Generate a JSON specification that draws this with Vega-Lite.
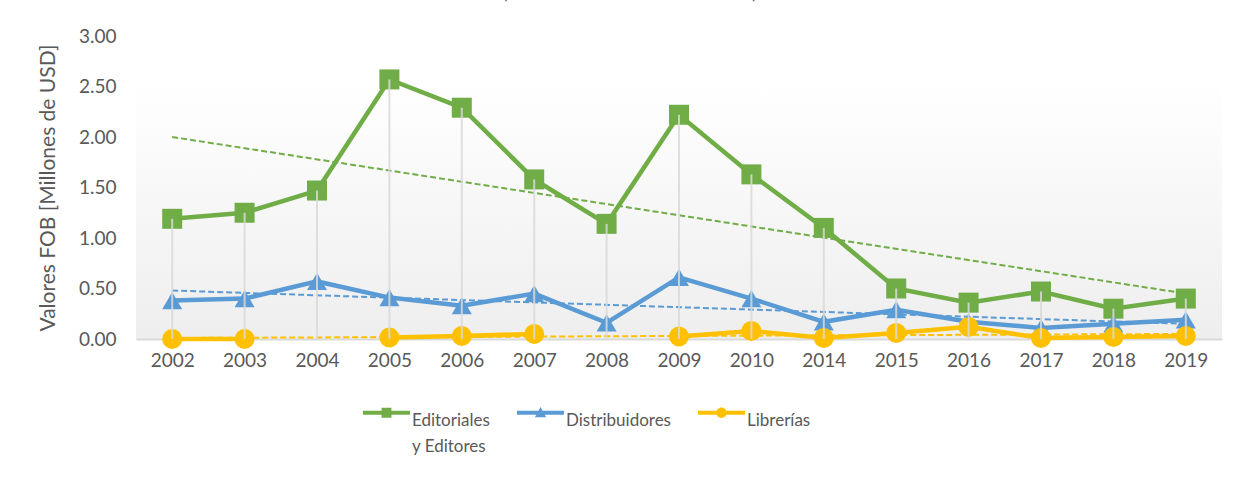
{
  "$schema": "https://vega.github.io/schema/vega-lite/v6.json",
  "width": 1086,
  "height": 303,
  "autosize": {"type": "none"},
  "padding": {"left": 136, "top": 36, "right": 27, "bottom": 138},
  "background": "white",
  "title": {
    "text": "(Valores FOB en Millones de USD)",
    "anchor": "middle",
    "frame": "bounds",
    "fontSize": 17,
    "font": "Lato",
    "fontWeight": "normal",
    "color": "#595959",
    "offset": 24
  },
  "datasets": {
    "series": [
      {"year": "2002", "series": "Editoriales y Editores", "value": 1.19},
      {"year": "2003", "series": "Editoriales y Editores", "value": 1.25},
      {"year": "2004", "series": "Editoriales y Editores", "value": 1.47},
      {"year": "2005", "series": "Editoriales y Editores", "value": 2.57},
      {"year": "2006", "series": "Editoriales y Editores", "value": 2.29},
      {"year": "2007", "series": "Editoriales y Editores", "value": 1.58},
      {"year": "2008", "series": "Editoriales y Editores", "value": 1.14},
      {"year": "2009", "series": "Editoriales y Editores", "value": 2.22},
      {"year": "2010", "series": "Editoriales y Editores", "value": 1.63},
      {"year": "2014", "series": "Editoriales y Editores", "value": 1.10},
      {"year": "2015", "series": "Editoriales y Editores", "value": 0.50},
      {"year": "2016", "series": "Editoriales y Editores", "value": 0.36},
      {"year": "2017", "series": "Editoriales y Editores", "value": 0.47},
      {"year": "2018", "series": "Editoriales y Editores", "value": 0.30},
      {"year": "2019", "series": "Editoriales y Editores", "value": 0.40},
      {"year": "2002", "series": "Distribuidores", "value": 0.38},
      {"year": "2003", "series": "Distribuidores", "value": 0.40},
      {"year": "2004", "series": "Distribuidores", "value": 0.57},
      {"year": "2005", "series": "Distribuidores", "value": 0.41},
      {"year": "2006", "series": "Distribuidores", "value": 0.33},
      {"year": "2007", "series": "Distribuidores", "value": 0.45},
      {"year": "2008", "series": "Distribuidores", "value": 0.16},
      {"year": "2009", "series": "Distribuidores", "value": 0.61},
      {"year": "2010", "series": "Distribuidores", "value": 0.40},
      {"year": "2014", "series": "Distribuidores", "value": 0.17},
      {"year": "2015", "series": "Distribuidores", "value": 0.29},
      {"year": "2016", "series": "Distribuidores", "value": 0.17},
      {"year": "2017", "series": "Distribuidores", "value": 0.11},
      {"year": "2018", "series": "Distribuidores", "value": 0.15},
      {"year": "2019", "series": "Distribuidores", "value": 0.19},
      {"year": "2002", "series": "Librerías", "value": 0.0},
      {"year": "2003", "series": "Librerías", "value": 0.0},
      {"year": "2004", "series": "Librerías", "value": null},
      {"year": "2005", "series": "Librerías", "value": 0.015},
      {"year": "2006", "series": "Librerías", "value": 0.03},
      {"year": "2007", "series": "Librerías", "value": 0.05},
      {"year": "2008", "series": "Librerías", "value": null},
      {"year": "2009", "series": "Librerías", "value": 0.025},
      {"year": "2010", "series": "Librerías", "value": 0.08},
      {"year": "2014", "series": "Librerías", "value": 0.01},
      {"year": "2015", "series": "Librerías", "value": 0.06},
      {"year": "2016", "series": "Librerías", "value": 0.12},
      {"year": "2017", "series": "Librerías", "value": 0.01},
      {"year": "2018", "series": "Librerías", "value": 0.02},
      {"year": "2019", "series": "Librerías", "value": 0.03}
    ],
    "trend": [
      {"year": "2002", "series": "Editoriales y Editores", "trend": 2.0},
      {"year": "2019", "series": "Editoriales y Editores", "trend": 0.45},
      {"year": "2002", "series": "Distribuidores", "trend": 0.48},
      {"year": "2019", "series": "Distribuidores", "trend": 0.15},
      {"year": "2002", "series": "Librerías", "trend": 0.01},
      {"year": "2019", "series": "Librerías", "trend": 0.05}
    ]
  },
  "data": {"name": "series"},
  "resolve": {"legend": {"color": "independent", "shape": "independent"}},
  "encoding": {
    "x": {
      "field": "year",
      "type": "ordinal",
      "scale": {"type": "point", "padding": 0.5},
      "axis": {"title": null}
    }
  },
  "layer": [
    {
      "mark": {"type": "line", "strokeWidth": 4.5, "invalid": "break-paths-filter-domains"},
      "encoding": {
        "y": {"field": "value", "type": "quantitative", "scale": {"domain": [0, 3], "nice": false}, "axis": {"title": "Valores FOB [Millones de USD]", "values": [0, 0.5, 1, 1.5, 2, 2.5, 3], "format": ".2f"}},
        "color": {"field": "series", "type": "nominal", "scale": {"domain": ["Editoriales y Editores", "Distribuidores", "Librerías"], "range": ["#70AD47", "#5B9BD5", "#FFC000"]}, "legend": null}
      }
    },
    {
      "transform": [{"filter": "datum.series === 'Editoriales y Editores'"}],
      "mark": {"type": "point", "shape": "square", "filled": true, "size": 400, "opacity": 1},
      "encoding": {
        "y": {"field": "value", "type": "quantitative"},
        "color": {"field": "series", "type": "nominal", "legend": null}
      }
    },
    {
      "transform": [{"filter": "datum.series === 'Distribuidores'"}],
      "mark": {"type": "point", "shape": "triangle-up", "filled": true, "size": 400, "opacity": 1},
      "encoding": {
        "y": {"field": "value", "type": "quantitative"},
        "color": {"field": "series", "type": "nominal", "legend": null}
      }
    },
    {
      "transform": [{"filter": "datum.series === 'Librerías'"}],
      "mark": {"type": "point", "shape": "circle", "filled": true, "size": 400, "opacity": 1},
      "encoding": {
        "y": {"field": "value", "type": "quantitative"},
        "color": {"field": "series", "type": "nominal", "legend": null}
      }
    },
    {
      "data": {"name": "trend"},
      "mark": {"type": "line", "strokeWidth": 2, "strokeDash": [6, 3]},
      "encoding": {
        "y": {"field": "trend", "type": "quantitative"},
        "color": {"field": "series", "type": "nominal", "legend": null}
      }
    },
    {
      "mark": {"type": "rule", "color": "#d9d9d9", "strokeWidth": 2, "opacity": 0.85},
      "encoding": {
        "y": {"aggregate": "max", "field": "value", "type": "quantitative"},
        "y2": {"datum": 0}
      }
    },
    {
      "transform": [{"filter": "false"}],
      "mark": {"type": "point", "filled": true, "opacity": 1},
      "encoding": {
        "y": {"field": "value", "type": "quantitative"},
        "color": {
          "field": "series",
          "type": "nominal",
          "legend": {
            "orient": "none",
            "legendX": 227,
            "legendY": 353,
            "direction": "horizontal",
            "title": null,
            "symbolSize": 2209,
            "symbolOpacity": 1,
            "symbolStrokeWidth": 0,
            "labelFontSize": 17,
            "labelFont": "Lato",
            "labelColor": "#595959",
            "labelOffset": 2,
            "columnPadding": 27,
            "labelBaseline": "top",
            "labelLimit": 300,
            "labelExpr": "datum.label === 'Editoriales y Editores' ? ['Editoriales', 'y Editores'] : [datum.label, '']"
          }
        },
        "shape": {
          "field": "series",
          "type": "nominal",
          "scale": {
            "domain": ["Editoriales y Editores", "Distribuidores", "Librerías"],
            "range": [
              "M-1,-0.085H1V0.085H-1Z M-0.21,-0.21H0.21V0.21H-0.21Z",
              "M-1,-0.085H1V0.085H-1Z M0,-0.25L0.24,0.19H-0.24Z",
              "M-1,-0.085H1V0.085H-1Z M0.22,0A0.22,0.22,0,1,1,-0.22,0A0.22,0.22,0,1,1,0.22,0Z"
            ]
          }
        }
      }
    }
  ],
  "config": {
    "font": "Lato",
    "style": {"guide-label": {"lineHeight": 26}},
    "view": {
      "stroke": null,
      "fill": {"gradient": "linear", "x1": 0, "y1": 0, "x2": 0, "y2": 1, "stops": [{"offset": 0, "color": "#ffffff"}, {"offset": 0.15, "color": "#ffffff"}, {"offset": 1, "color": "#eeeeee"}]}
    },
    "axisX": {
      "domainColor": "#d9d9d9",
      "domainWidth": 2,
      "ticks": false,
      "grid": false,
      "labelFontSize": 19,
      "labelColor": "#595959",
      "labelPadding": 12,
      "labelAngle": 0
    },
    "axisY": {
      "domain": false,
      "ticks": false,
      "grid": false,
      "labelFontSize": 19,
      "labelColor": "#595959",
      "labelPadding": 20,
      "titleFontSize": 21,
      "titleFontWeight": "normal",
      "titleColor": "#595959",
      "titlePadding": 20
    }
  }
}
